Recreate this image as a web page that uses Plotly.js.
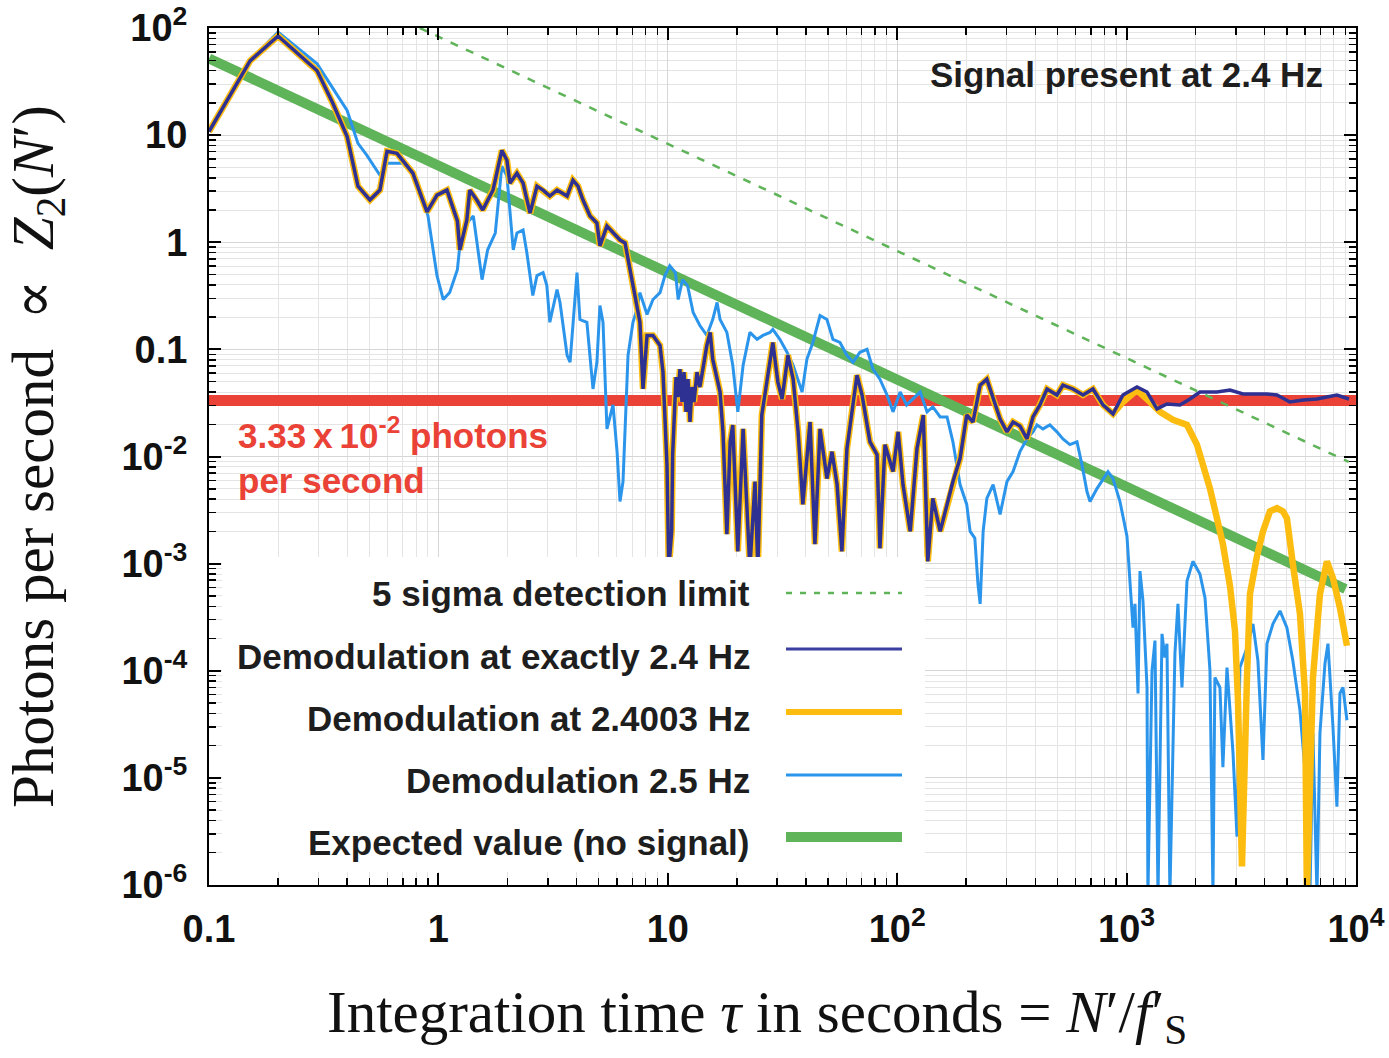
<!DOCTYPE html>
<html>
<head>
<meta charset="utf-8">
<script src="https://cdn.plot.ly/plotly-3.0.1.min.js"></script>
<style>
html,body{margin:0;padding:0;background:#fff;}
#chart{width:1389px;height:1058px;}
</style>
</head>
<body>
<div id="chart"></div>
<script>
// ---------------- data ----------------
// Demodulation at exactly 2.4 Hz and at 2.4003 Hz coincide up to ~900 s
const commonTau = [0.1,0.151,0.2,0.296,0.347,0.4,0.446,0.503,0.556,0.597,0.66,0.774,0.892,0.986,1.09,1.21,1.24,1.33,1.37,1.47,1.56,1.64,1.73,1.89,1.99,2.05,2.2,2.34,2.51,2.69,2.86,3.06,3.29,3.46,3.64,3.86,4.06,4.27,4.58,4.91,5.06,5.43,5.77,6.19,6.51,6.84,7.34,7.56,7.8,8.12,8.62,9.25,9.53,9.92,10.1,10.4,10.5,10.86,11.07,11.3,11.53,11.77,12.01,12.25,12.5,12.75,13.01,13.41,13.8,14.24,14.8,15.3,15.7,16.9,17.4,18.1,18.7,19.2,20.2,21.3,22.8,24.0,24.7,25.7,27.1,28.7,30.2,31.5,33.4,35.2,37.0,38.8,41.7,43.8,46.1,49.4,52.0,54.7,57.4,60.4,66.8,70.3,76.1,81.7,84.1,88.5,95.9,101,106,114,122,130,136,143,154,165,175,188,201,214,230,246,262,281,301,320,343,368,391,419,450,497,528,584,646,714,789,873];
const commonZ = [10.8,49.4,84.3,39.9,19.7,9.72,3.34,2.48,3.07,7.06,6.76,4.41,1.92,2.75,3.07,1.58,0.85,1.61,3.07,2.48,2.0,2.48,3.07,7.21,5.82,3.56,4.41,3.56,1.87,3.34,3.07,2.7,3.07,2.88,2.7,3.8,3.34,2.48,1.76,1.51,0.926,1.42,1.22,1.05,0.987,0.554,0.236,0.179,0.0427,0.135,0.135,0.109,0.0613,0.00839,0.0009,0.002,0.0104,0.0551,0.0359,0.0653,0.0323,0.0613,0.0261,0.0527,0.021,0.0445,0.0323,0.0613,0.0445,0.0682,0.109,0.144,0.0809,0.04,0.017,0.00188,0.0137,0.0197,0.0013,0.0181,0.0009,0.00583,0.0009,0.0244,0.0527,0.116,0.0495,0.0344,0.0881,0.0527,0.017,0.00357,0.021,0.00152,0.0181,0.00622,0.0111,0.00547,0.0013,0.0118,0.0575,0.0375,0.0137,0.0104,0.00139,0.0129,0.00723,0.017,0.00547,0.002,0.0118,0.0244,0.00105,0.00406,0.002,0.00357,0.00583,0.00955,0.0244,0.021,0.0464,0.0527,0.0344,0.0224,0.017,0.021,0.0193,0.0146,0.0234,0.0303,0.0427,0.0375,0.0464,0.0427,0.0375,0.0427,0.0303,0.025];

// tail of "Demodulation at exactly 2.4 Hz"
const exactTailTau = [964,1110,1228,1357,1500,1709,1889,2089,2477,2824,3217,3700,4093,4525,5152,5875,6761,7472,8260,9322];
const exactTailZ   = [0.0375,0.0445,0.04,0.0278,0.0309,0.0303,0.0344,0.04,0.04,0.0417,0.0383,0.0383,0.0383,0.0375,0.0323,0.0337,0.0344,0.0359,0.0375,0.0344];

// tail of "Demodulation at 2.4003 Hz"
const detunedTailTau = [964,1110,1265,1399,1593,1834,2027,2153,2310,2477,2630,2824,2969,3060,3119,3185,3350,3451,3700,3932,4217,4525,4808,5000,5309,5700,5996,6112,6495,6966,7472,7940,8515,9135];
const detunedTailZ   = [0.0323,0.0417,0.0323,0.0261,0.022,0.0197,0.0129,0.00839,0.00502,0.00265,0.00152,0.000618,0.000236,5.29e-5,1.47e-5,1.49e-6,8.65e-5,0.000521,0.00117,0.002,0.00307,0.0033,0.00307,0.00265,0.000989,0.00034,6.14e-5,8e-7,8.65e-5,0.000521,0.00105,0.000733,0.000386,0.000171];

// "Demodulation 2.5 Hz"
const offTau = [0.1,0.151,0.2,0.296,0.4,0.446,0.488,0.556,0.597,0.701,0.807,0.901,0.986,1.05,1.12,1.21,1.24,1.33,1.42,1.55,1.64,1.77,1.89,1.99,2.12,2.2,2.34,2.43,2.58,2.69,2.86,2.97,3.06,3.29,3.39,3.64,3.75,4.02,4.14,4.44,4.72,4.91,5.06,5.22,5.43,5.77,6.01,6.19,6.38,6.71,7.05,7.34,7.56,8.12,8.62,9.25,9.72,10.2,10.8,11.1,11.6,12.2,12.9,13.8,14.8,15.7,16.4,16.9,18.1,19.2,20.2,21.3,22.8,24.5,26.0,27.9,28.7,30.8,33.1,35.2,38.5,40.4,42.9,46.1,49.4,52.5,56.3,60.4,64.2,68.8,73.9,78.4,84.1,90.3,95.9,103,110,117,126,135,143,154,165,175,188,201,208,218,225,230,237,246,262,281,301,320,343,368,391,407,432,463,497,528,566,608,639,672,693,743,789,830,873,936,1004,1035,1067,1088,1122,1144,1179,1228,1239,1291,1330,1371,1427,1469,1500,1545,1625,1675,1744,1834,1946,2089,2198,2310,2380,2427,2553,2630,2740,2911,3030,3119,3350,3556,3738,3932,4093,4347,4665,5000,5309,5700,6112,6302,6495,6761,6966,7328,7551,7940,8260,8515,8776,9135];
const offZ = [10.8,49.4,91.8,46.3,17.0,8.37,6.48,4.22,5.46,5.46,3.8,1.76,0.488,0.292,0.339,0.554,0.926,1.51,1.76,0.448,0.85,1.22,5.12,4.14,0.85,1.22,1.3,0.797,0.318,0.488,0.52,0.394,0.179,0.361,0.274,0.0881,0.0759,0.52,0.19,0.179,0.0427,0.0759,0.257,0.179,0.0181,0.0303,0.0111,0.0038,0.00583,0.0881,0.179,0.236,0.339,0.212,0.292,0.339,0.488,0.604,0.52,0.292,0.448,0.394,0.221,0.167,0.135,0.19,0.274,0.19,0.144,0.0711,0.0261,0.0711,0.144,0.124,0.135,0.144,0.154,0.124,0.094,0.0711,0.04,0.0809,0.116,0.207,0.19,0.124,0.116,0.0881,0.0759,0.094,0.1,0.0653,0.0527,0.0375,0.0261,0.04,0.0303,0.0344,0.04,0.0261,0.029,0.0234,0.0234,0.0137,0.00547,0.00357,0.002,0.00173,0.000645,0.000421,0.002,0.00406,0.00547,0.00288,0.00583,0.00723,0.0111,0.0146,0.017,0.0197,0.0181,0.0197,0.017,0.0146,0.0129,0.0137,0.00839,0.00471,0.0038,0.00502,0.00622,0.00723,0.00622,0.0038,0.0018,0.000689,0.000252,0.000421,6.14e-5,0.000851,0.000449,6.98e-5,8e-7,0.0001,0.000191,8e-7,0.000221,0.000133,0.000179,8e-7,0.000145,0.000421,6.98e-5,0.000689,0.00105,0.0008,0.000478,0.0001,8e-7,8.65e-5,6.98e-5,1.26e-5,0.000107,1.7e-5,2.83e-6,0.000107,0.000164,0.000274,0.000124,1.47e-5,0.000179,0.000274,0.000362,0.000252,0.000124,4.27e-5,7.24e-6,8e-7,2.61e-5,8e-7,2.61e-5,0.000117,0.000179,2.97e-5,5.37e-6,6.14e-5,6.98e-5,3.45e-5];

// Expected value (no signal), 5 sigma detection limit, signal level
const expectedTau = [0.1, 9000];
const expectedZ   = [52, 5.8e-4];
const limitTau    = [0.83, 9300];
const limitZ      = [100, 0.0089];
const levelTau    = [0.1, 10000];
const levelZ      = [0.0333, 0.0333];

// tick labels
const xTickVals = [0.1, 1, 10, 100, 1000, 10000];
const xTickText = ['0.1', '1', '10', '10<sup>2</sup>', '10<sup>3</sup>', '10<sup>4</sup>'];
const yTickVals = [1e-6, 1e-5, 1e-4, 1e-3, 1e-2, 0.1, 1, 10, 100];
const yTickText = ['10<sup>-6</sup>', '10<sup>-5</sup>', '10<sup>-4</sup>', '10<sup>-3</sup>', '10<sup>-2</sup>', '0.1', '1', '10', '10<sup>2</sup>'];

const legendLabels = ['5 sigma detection limit', 'Demodulation at exactly 2.4 Hz', 'Demodulation at 2.4003 Hz', 'Demodulation 2.5 Hz', 'Expected value (no signal)'];
const xTitle = 'Integration time <i>\u03C4</i> in seconds = <i>N</i>\u2032/<i>f</i>\u2032<sub>S</sub>';
const yTitle = 'Photons per second\u00A0\u00A0\u221D\u00A0\u00A0<i>Z</i><sub>2</sub>(<i>N</i>\u2032)';

// ---------------- build ----------------
const exactTau = commonTau.concat(exactTailTau);
const exactZ = commonZ.concat(exactTailZ);
const detunedTau = commonTau.concat(detunedTailTau);
const detunedZ = commonZ.concat(detunedTailZ);

function minorLog(loExp, hiExp) {
  const out = [];
  for (let e = loExp; e < hiExp; e++) {
    for (let m = 2; m <= 9; m++) out.push(m * Math.pow(10, e));
  }
  return out;
}

const C = {
  navy: '#2e3192', amber: '#fcbc10', sky: '#2b95ec', green: '#5fb358', red: '#ea4236'
};

const traces = [
  {x: levelTau, y: levelZ, mode: 'lines', line: {color: C.red, width: 11}, hoverinfo: 'skip'},
  {x: expectedTau, y: expectedZ, mode: 'lines', line: {color: C.green, width: 10}, name: legendLabels[4]},
  {x: offTau, y: offZ, mode: 'lines', line: {color: C.sky, width: 3}, name: legendLabels[3]},
  {x: detunedTau, y: detunedZ, mode: 'lines', line: {color: C.amber, width: 6.5}, name: legendLabels[2]},
  {x: exactTau, y: exactZ, mode: 'lines', line: {color: C.navy, width: 3.5}, name: legendLabels[1]},
  {x: limitTau, y: limitZ, mode: 'lines', line: {color: C.green, width: 2.5, dash: '8px,9px'}, name: legendLabels[0]}
];

const tickFont = {family: 'Liberation Sans, Arial, sans-serif', size: 38, weight: 700, color: '#111'};
const lblFont = {family: 'Liberation Sans, Arial, sans-serif', size: 35, weight: 700, color: '#1e1e1e'};
const serifFont = {family: 'Liberation Serif, DejaVu Serif, serif', size: 59, color: '#111'};

const axisCommon = {
  type: 'log', tickmode: 'array', ticks: 'inside', ticklen: 12, tickwidth: 2, tickcolor: '#000',
  showline: true, linecolor: '#000', linewidth: 2, mirror: 'allticks',
  showgrid: true, gridcolor: '#d6d6d6', gridwidth: 1, zeroline: false,
  tickfont: tickFont, automargin: false, ticklabeloverflow: 'allow'
};

// paper-coordinate helpers for decorations (plot area 209..1356 x 28..885 px)
const TOP = 28, BOT = 885;
const PX = v => (v - 209) / 1147;
const PY = v => (BOT - v) / (BOT - TOP);

const legendRows = [593, 656, 718, 780, 842];
const sampleRows = [593, 649, 712, 775, 837];

const shapes = [
  {type: 'rect', xref: 'paper', yref: 'paper', layer: 'between', x0: PX(899), x1: PX(1344), y0: PY(128), y1: PY(29), fillcolor: '#fff', line: {width: 0}},
  {type: 'rect', xref: 'paper', yref: 'paper', layer: 'above', x0: PX(222), x1: PX(925), y0: PY(872), y1: PY(557), fillcolor: '#fff', line: {width: 0}},
  {type: 'line', xref: 'paper', yref: 'paper', layer: 'above', x0: PX(786), x1: PX(902), y0: PY(sampleRows[0]), y1: PY(sampleRows[0]), line: {color: C.green, width: 2.5, dash: '6px,8px'}},
  {type: 'line', xref: 'paper', yref: 'paper', layer: 'above', x0: PX(786), x1: PX(902), y0: PY(sampleRows[1]), y1: PY(sampleRows[1]), line: {color: '#3b3fa0', width: 3}},
  {type: 'line', xref: 'paper', yref: 'paper', layer: 'above', x0: PX(786), x1: PX(902), y0: PY(sampleRows[2]), y1: PY(sampleRows[2]), line: {color: C.amber, width: 6}},
  {type: 'line', xref: 'paper', yref: 'paper', layer: 'above', x0: PX(786), x1: PX(902), y0: PY(sampleRows[3]), y1: PY(sampleRows[3]), line: {color: C.sky, width: 3}},
  {type: 'line', xref: 'paper', yref: 'paper', layer: 'above', x0: PX(786), x1: PX(902), y0: PY(sampleRows[4]), y1: PY(sampleRows[4]), line: {color: C.green, width: 10}}
];

const annotations = legendLabels.map((t, i) => ({
  xref: 'paper', yref: 'paper', x: PX(752), y: PY(legendRows[i]), xanchor: 'right', yanchor: 'middle',
  text: t, showarrow: false, font: lblFont
}));
annotations.push({
  xref: 'paper', yref: 'paper', x: PX(1126), y: PY(75), xanchor: 'center', yanchor: 'middle',
  text: 'Signal present at 2.4 Hz', showarrow: false, font: lblFont
});
annotations.push({
  xref: 'paper', yref: 'paper', x: PX(236), y: PY(455), xanchor: 'left', yanchor: 'middle', align: 'left',
  text: '3.33\u2009x\u200910<sup>-2</sup> photons<br>per second', showarrow: false,
  font: {family: 'Liberation Sans, Arial, sans-serif', size: 35, weight: 700, color: C.red}
});
// x-axis title (placed to match the reference centring)
annotations.push({
  xref: 'paper', yref: 'paper', x: PX(757), y: PY(1016), xanchor: 'center', yanchor: 'middle',
  text: xTitle, showarrow: false, font: serifFont
});

const layout = {
  width: 1389, height: 1058,
  margin: {l: 209, r: 33, t: TOP, b: 1058 - BOT},
  paper_bgcolor: '#fff', plot_bgcolor: '#fff',
  showlegend: false,
  xaxis: Object.assign({}, axisCommon, {
    range: [-1, 4.0002], tickvals: xTickVals, ticktext: xTickText, ticklabelstandoff: 9,
    minor: {tickmode: 'array', tickvals: minorLog(-1, 4), ticks: 'inside', ticklen: 7, tickwidth: 1.5, tickcolor: '#000', showgrid: true, gridcolor: '#e4e4e4', gridwidth: 1}
  }),
  yaxis: Object.assign({}, axisCommon, {
    range: [-6.0002, 2.0002], tickvals: yTickVals, ticktext: yTickText, ticklabelstandoff: 12,
    minor: {tickmode: 'array', tickvals: minorLog(-6, 2), ticks: 'inside', ticklen: 7, tickwidth: 1.5, tickcolor: '#000', showgrid: true, gridcolor: '#e4e4e4', gridwidth: 1},
    title: {text: yTitle, font: serifFont, standoff: 56}
  }),
  shapes: shapes,
  annotations: annotations
};

Plotly.newPlot('chart', traces, layout, {staticPlot: true, displayModeBar: false});
</script>
</body>
</html>
